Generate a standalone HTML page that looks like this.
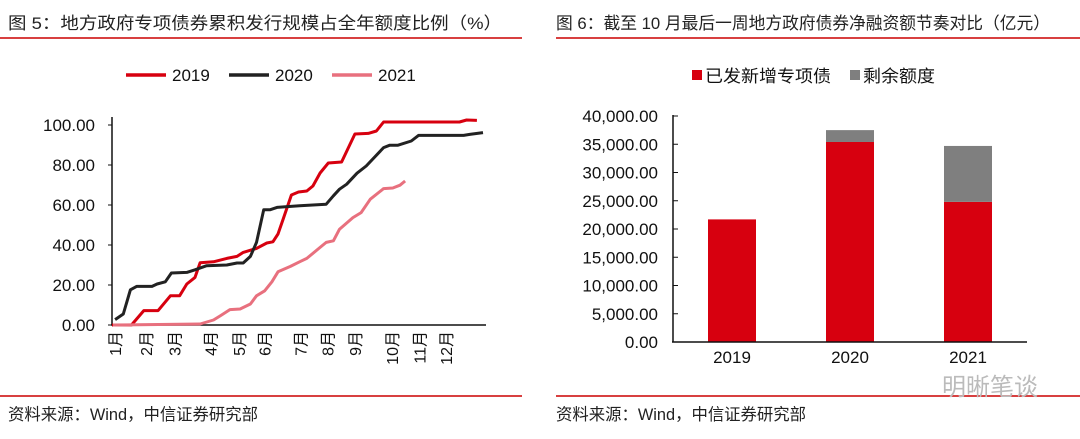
<!DOCTYPE html>
<html><head><meta charset="utf-8"><style>
html,body{margin:0;padding:0;background:#fff;width:1080px;height:439px;overflow:hidden}
svg text{font-family:"Liberation Sans","Noto Sans CJK SC",sans-serif}
</style></head><body>
<svg id="root" width="1080" height="439" xmlns="http://www.w3.org/2000/svg">
<text x="8" y="29" font-size="17" fill="#222" textLength="494" lengthAdjust="spacingAndGlyphs">图 5：地方政府专项债券累积发行规模占全年额度比例（%）</text>
<line x1="0" y1="38" x2="522" y2="38" stroke="#c00" stroke-width="1.5"/>
<text x="556" y="29" font-size="17" fill="#222" textLength="494" lengthAdjust="spacingAndGlyphs">图 6：截至 10 月最后一周地方政府债券净融资额节奏对比（亿元）</text>
<line x1="556" y1="38" x2="1080" y2="38" stroke="#c00" stroke-width="1.5"/>
<line x1="0" y1="396" x2="522" y2="396" stroke="#c00" stroke-width="1.5"/>
<line x1="556" y1="396" x2="1080" y2="396" stroke="#c00" stroke-width="1.5"/>
<text x="8" y="420" font-size="16.5" fill="#222" textLength="250" lengthAdjust="spacingAndGlyphs">资料来源：Wind，中信证券研究部</text>
<text x="556" y="420" font-size="16.5" fill="#222" textLength="250" lengthAdjust="spacingAndGlyphs">资料来源：Wind，中信证券研究部</text>
<text x="942" y="395" font-size="24" fill="#bbb">明晰笔谈</text>
<g id="left"></g>
<g id="right"></g>
</svg>
<script>
const NS="http://www.w3.org/2000/svg";
function mk(p,t,a){const e=document.createElementNS(NS,t);for(const k in a)e.setAttribute(k,a[k]);p.appendChild(e);return e;}
// ---- left chart data ----
const yTicksL=[0,20,40,60,80,100];
const monthLabels=["1月","2月","3月","4月","5月","6月","7月","8月","9月","10月","11月","12月"];
const monthDays=[3,33,61,96,124,149,184,210,237,273,300,326];
const days2019=[0,19,31,45,57,66,73,81,86,99,112,122,128,141,151,157,162,167,175,182,190,196,203,211,224,237,250,258,265,339,346,356];
const vals2019=[0,0,7.2,7.2,14.6,14.6,20.5,23.8,31.1,31.6,33.3,34.3,36.3,38.3,41,41.6,45.5,53,65,66.5,67,69.5,76,81,81.5,95.5,95.8,97,101.5,101.5,102.5,102.3];
const days2020=[3,11,18,24,39,44,52,58,73,81,92,112,122,128,135,141,148,154,161,183,209,216,222,229,239,248,265,271,279,292,299,343,349,362];
const vals2020=[2.7,5.5,17.6,19.3,19.3,20.5,21.6,26,26.3,27.6,29.6,30,31,31,34.3,41.3,57.6,57.6,58.8,59.6,60.4,64.6,67.9,70.4,75.9,79.5,88.7,89.9,89.9,92,94.8,94.8,95.3,96.2];
const days2021=[1,86,99,106,115,125,135,141,149,156,162,174,183,190,203,209,216,222,235,243,252,265,274,281,286];
const vals2021=[0,0.5,2.5,4.7,7.7,8,10.5,14.6,17.1,21.6,26.6,29.3,31.6,33.3,38.8,41.3,42.1,47.9,53.7,56.2,62.9,68.2,68.5,69.9,72];
const seriesNames=["2019","2020","2021"];
const seriesColors=["#d7000f","#222222","#e8707e"];

const L=document.getElementById('left');
const xL=d=>112+d*1.025, yL=v=>325-v*2;
yTicksL.forEach(t=>{
 const tx=mk(L,'text',{x:95,y:yL(t)+6,'font-size':17,'text-anchor':'end',fill:'#111'});tx.textContent=t.toFixed(2);
 
 
 const tk=mk(L,'line',{x1:108,x2:112,y1:yL(t),y2:yL(t),stroke:'#111','stroke-width':1});
 
 
});
const ya=mk(L,'line',{x1:112,x2:112,y1:yL(104),y2:yL(0),stroke:'#111','stroke-width':1.5});


const xa=mk(L,'line',{x1:111,x2:486,y1:yL(0),y2:yL(0),stroke:'#111','stroke-width':1.5});


monthLabels.forEach((m,i)=>{
 const x=xL(monthDays[i])+6,y=331;
 const t=mk(L,'text',{x:x,y:y,'font-size':16,'text-anchor':'end',fill:'#111',transform:`rotate(-90 ${x} ${y})`});t.textContent=m;
 
 
});
[[days2019,vals2019],[days2020,vals2020],[days2021,vals2021]].forEach((s,k)=>{
 const pts=s[0].map((d,i)=>xL(d).toFixed(1)+','+yL(s[1][i]).toFixed(1)).join(' ');
 const pl=mk(L,'polyline',{points:pts,fill:'none',stroke:seriesColors[k],'stroke-width':3,'stroke-linejoin':'round'});
 
 
 const lx=126+k*103;
 const ll=mk(L,'line',{x1:lx,x2:lx+40,y1:75,y2:75,stroke:seriesColors[k],'stroke-width':3.5});
 
 
 const lt=mk(L,'text',{x:lx+46,y:81,'font-size':17,fill:'#111'});lt.textContent=seriesNames[k];
 
 
});
// ---- right chart data ----
const barCats=["2019","2020","2021"];
const issued=[21700,35400,24800];
const remaining=[0,2100,9900];
const yTicksR=[0,5000,10000,15000,20000,25000,30000,35000,40000];
const R=document.getElementById('right');
const yR=v=>342-v*0.00565, xR=i=>732+i*118;
yTicksR.forEach(t=>{
 const tx=mk(R,'text',{x:658,y:yR(t)+6,'font-size':17,'text-anchor':'end',fill:'#111'});
 tx.textContent=t.toLocaleString('en-US',{minimumFractionDigits:2,maximumFractionDigits:2});
 
 
 const tk=mk(R,'line',{x1:673,x2:678,y1:yR(t),y2:yR(t),stroke:'#111','stroke-width':1});
 
 
});
barCats.forEach((c,i)=>{
 const b1=mk(R,'rect',{x:xR(i)-24,y:yR(issued[i]),width:48,height:yR(0)-yR(issued[i]),fill:'#d7000f'});
 
 
 if(remaining[i]>0){
  const b2=mk(R,'rect',{x:xR(i)-24,y:yR(issued[i]+remaining[i]),width:48,height:yR(issued[i])-yR(issued[i]+remaining[i]),fill:'#7f7f7f'});
  
  
 }
 const t=mk(R,'text',{x:xR(i),y:363,'font-size':17,'text-anchor':'middle',fill:'#111'});t.textContent=c;
 
 
});
const ya2=mk(R,'line',{x1:673,x2:673,y1:yR(40000)-1,y2:yR(0),stroke:'#111','stroke-width':1.5});


const xa2=mk(R,'line',{x1:672,x2:1027,y1:yR(0),y2:yR(0),stroke:'#111','stroke-width':1.5});


const lg=[["已发新增专项债","#d7000f",692,126],["剩余额度","#7f7f7f",850,72]];
lg.forEach(g=>{
 const r=mk(R,'rect',{x:g[2],y:70,width:10,height:10,fill:g[1]});
 
 
 const t=mk(R,'text',{x:g[2]+13,y:82,'font-size':17,fill:'#111',textLength:g[3],lengthAdjust:'spacingAndGlyphs'});t.textContent=g[0];
 
 
});
</script>
</body></html>
